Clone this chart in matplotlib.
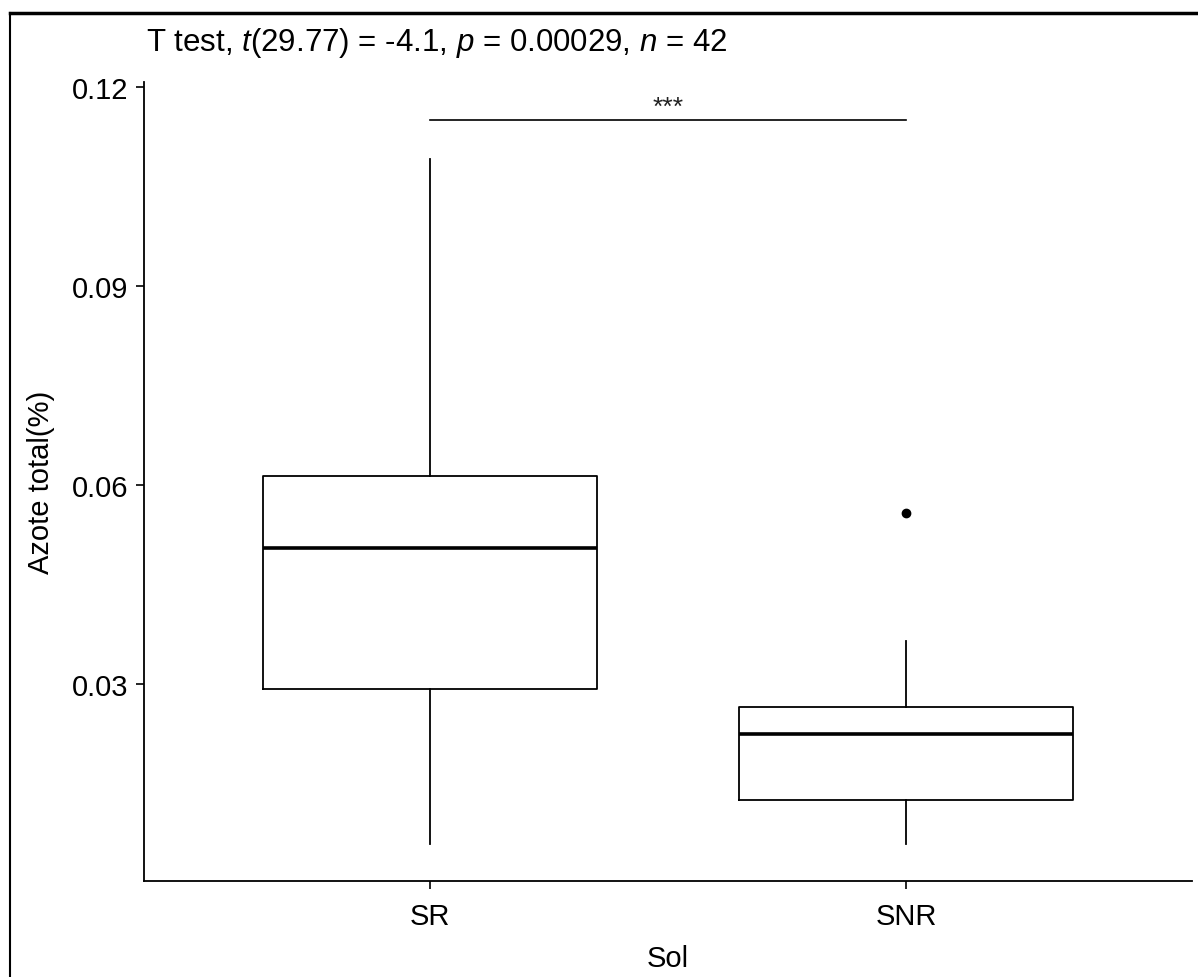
import matplotlib
matplotlib.use("Agg")
import matplotlib.pyplot as plt
from matplotlib.lines import Line2D

plt.rcParams['font.family'] = ['Liberation Sans', 'DejaVu Sans']
plt.rcParams['mathtext.fontset'] = 'custom'
plt.rcParams['mathtext.rm'] = 'Liberation Sans'
plt.rcParams['mathtext.it'] = 'Liberation Sans:italic'

# summary values
groups = ["SR", "SNR"]
whisker_low = [0.0059, 0.0059]
q1 = [0.0293, 0.0125]
median = [0.0505, 0.0224]
q3 = [0.0614, 0.0265]
whisker_high = [0.1091, 0.0365]
outliers = [[], [0.0558]]
yticks = [0.03, 0.06, 0.09, 0.12]
ytick_labels = ["0.03", "0.06", "0.09", "0.12"]
bracket_y = 0.1149
signif = "***"
subtitle = r"T test, $\mathit{t}$(29.77) = -4.1, $\mathit{p}$ = 0.00029, $\mathit{n}$ = 42"

W, H = 1198, 978
fig = plt.figure(figsize=(W / 100, H / 100), dpi=100)
ax = fig.add_axes([144 / W, 1 - 882 / H, (1192 - 144) / W, (882 - 83) / H])

stats = []
for i, g in enumerate(groups):
    stats.append(dict(label=g, whislo=whisker_low[i], q1=q1[i], med=median[i],
                      q3=q3[i], whishi=whisker_high[i], fliers=outliers[i]))

ax.bxp(stats, positions=[1, 2], widths=0.70, showcaps=False,
       boxprops=dict(color="black", linewidth=1.3),
       whiskerprops=dict(color="black", linewidth=1.3),
       medianprops=dict(color="black", linewidth=2.6),
       flierprops=dict(marker="o", markerfacecolor="black",
                       markeredgecolor="black", markersize=6))

# significance bracket
ax.plot([1, 2], [bracket_y, bracket_y], color="black", linewidth=1.2)
ax.text(1.5, bracket_y + 0.0003, signif, ha="center", va="bottom", fontsize=19,
        color="#222222")

ax.set_xlim(0.4, 2.6)
ax.set_ylim(0.0003, 0.1207)
ax.set_yticks(yticks)
ax.set_yticklabels(ytick_labels)
ax.set_xticks([1, 2])
ax.set_xticklabels(groups)

for s in ["top", "right"]:
    ax.spines[s].set_visible(False)
for s in ["left", "bottom"]:
    ax.spines[s].set_linewidth(1.3)
ax.tick_params(direction="out", length=6, width=1.2, labelsize=21,
               colors="black", pad=5)
ax.tick_params(axis="x", pad=9)

ax.set_xlabel("Sol", fontsize=21)
ax.set_ylabel("Azote total(%)", fontsize=21)
ax.xaxis.set_label_coords(0.5, -0.079)
ax.yaxis.set_label_coords(-0.085, 0.5)

fig.text(146 / W, 1 - 43 / H, subtitle, fontsize=22.5, ha="left", va="center")

# frame lines at top and left edge of the screenshot
fig.add_artist(Line2D([10 / W, 1], [1 - 14 / H, 1 - 14 / H], color="black",
                      linewidth=2.5, transform=fig.transFigure))
fig.add_artist(Line2D([10 / W, 10 / W], [0, 1 - 14 / H], color="black",
                      linewidth=1.5, transform=fig.transFigure))

fig.savefig("out.png", dpi=100)
